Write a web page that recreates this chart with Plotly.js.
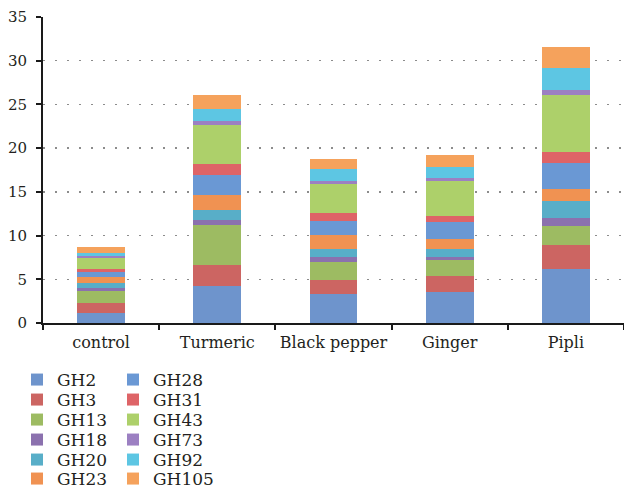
<!DOCTYPE html>
<html>
<head>
<meta charset="utf-8">
<script src="https://cdn.plot.ly/plotly-3.0.1.min.js"></script>
<style>html,body{margin:0;padding:0;background:#fff;}#chart{width:624px;height:493px;}</style>
</head>
<body>
<div id="chart"></div>
<script>
var categories = ['control', 'Turmeric', 'Black pepper', 'Ginger', 'Pipli'];
var seriesNames = ['GH2', 'GH3', 'GH13', 'GH18', 'GH20', 'GH23', 'GH28', 'GH31', 'GH43', 'GH73', 'GH92', 'GH105'];
var GH2   = [1.20, 4.23, 3.30, 3.50, 6.15];
var GH3   = [1.06, 2.45, 1.60, 1.90, 2.80];
var GH13  = [1.41, 4.50, 2.10, 1.80, 2.10];
var GH18  = [0.38, 0.65, 0.50, 0.40, 1.00];
var GH20  = [0.50, 1.15, 0.95, 0.90, 1.90];
var GH23  = [0.69, 1.70, 1.60, 1.15, 1.35];
var GH28  = [0.57, 2.20, 1.65, 1.90, 2.95];
var GH31  = [0.35, 1.35, 0.85, 0.70, 1.35];
var GH43  = [1.22, 4.40, 3.30, 3.95, 6.50];
var GH73  = [0.23, 0.45, 0.40, 0.35, 0.55];
var GH92  = [0.45, 1.40, 1.35, 1.25, 2.55];
var GH105 = [0.60, 1.60, 1.20, 1.40, 2.40];
var yTicks = [0, 5, 10, 15, 20, 25, 30, 35];

var seriesValues = [GH2, GH3, GH13, GH18, GH20, GH23, GH28, GH31, GH43, GH73, GH92, GH105];
var colors = ['#6E94CC', '#CC6562', '#9DBB62', '#8B71AE', '#58AEC8', '#F09252',
              '#6A98D4', '#DE6467', '#ADD06A', '#9C80C2', '#5DC6E3', '#F5A25C'];

var rowY = [380, 400, 420, 440, 460, 479];
var legendIds = ['legend', 'legend2', 'legend3', 'legend4', 'legend5', 'legend6'];

var traces = seriesNames.map(function (name, i) {
  return {
    type: 'bar',
    name: name,
    x: categories,
    y: seriesValues[i],
    marker: {color: colors[i], line: {width: 0}},
    legend: legendIds[i % 6],
    legendwidth: i < 6 ? 51 : 75,
    hoverinfo: 'skip'
  };
});

var legendFont = {family: 'DejaVu Serif', size: 17, color: '#231f20'};
var layout = {
  width: 624,
  height: 493,
  margin: {l: 43, r: 0, t: 17, b: 170},
  paper_bgcolor: '#ffffff',
  plot_bgcolor: '#ffffff',
  barmode: 'stack',
  bargap: 0.59,
  showlegend: true,
  font: {family: 'DejaVu Serif', color: '#231f20'},
  xaxis: {
    type: 'category',
    showline: true,
    linecolor: '#1a1a1a',
    linewidth: 2,
    ticks: 'outside',
    tickson: 'boundaries',
    ticklen: 5,
    tickwidth: 2,
    tickcolor: '#1a1a1a',
    tickangle: 0,
    ticklabelstandoff: 4,
    tickfont: {family: 'DejaVu Serif', size: 16, color: '#231f20'},
    showgrid: false,
    zeroline: false,
    fixedrange: true
  },
  yaxis: {
    range: [0, 35],
    tickvals: yTicks,
    ticktext: yTicks.map(String),
    showline: true,
    linecolor: '#1a1a1a',
    linewidth: 2,
    ticks: 'outside',
    ticklen: 5,
    tickwidth: 2,
    tickcolor: '#1a1a1a',
    ticklabelstandoff: 6,
    tickfont: {family: 'DejaVu Serif', size: 15, color: '#231f20'},
    showgrid: true,
    gridcolor: '#8c8c8c',
    gridwidth: 1.5,
    griddash: '1.5px,10.5px',
    zeroline: false,
    fixedrange: true
  }
};

legendIds.forEach(function (id, k) {
  layout[id] = {
    orientation: 'h',
    xref: 'container',
    yref: 'container',
    x: 17 / 624,
    xanchor: 'left',
    y: 1 - rowY[k] / 493,
    yanchor: 'middle',
    entrywidthmode: 'pixels',
    itemwidth: 30,
    font: legendFont,
    bgcolor: 'rgba(0,0,0,0)',
    borderwidth: 0,
    traceorder: 'normal',
    itemclick: false,
    itemdoubleclick: false
  };
});

Plotly.newPlot('chart', traces, layout, {displayModeBar: false, staticPlot: true});
</script>
</body>
</html>
